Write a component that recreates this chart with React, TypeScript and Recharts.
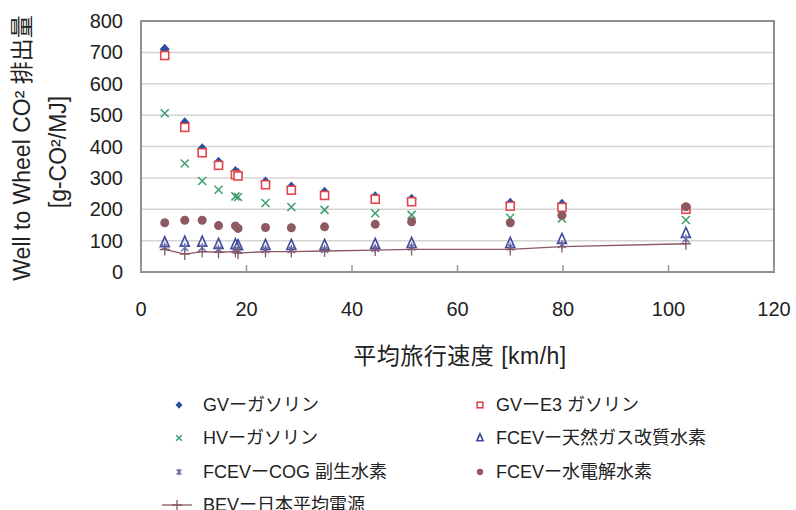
import React from 'react';
import {
    ComposedChart,
    Scatter,
    XAxis,
    YAxis,
    CartesianGrid,
    ReferenceArea,
} from 'recharts';

// average travel speed [km/h] for each measurement point
const speeds = [4.5, 8.3, 11.6, 14.7, 17.9, 18.4, 23.6, 28.5, 34.8, 44.4, 51.3, 70.0, 79.8, 103.3];

// Well to Wheel CO2 [g-CO2/MJ]
const gvGasoline = [710, 476, 393, 350, 320, 314, 287, 271, 254, 240, 232, 219, 216, 205];
const gvE3 = [690, 461, 380, 340, 310, 306, 278, 261, 244, 232, 224, 210, 206, 200];
const hvGasoline = [506, 346, 290, 262, 241, 239, 220, 207, 198, 187, 182, 173, 171, 166];
const fcevNaturalGas = [93, 95, 95, 88, 87, 84, 85, 85, 85, 88, 91, 91, 104, 123];
const fcevCog = [80, 78, 78, 73, 72, 70, 72, 72, 72, 75, 80, 80, 88, 105];
const fcevElectrolysis = [157, 165, 165, 148, 147, 139, 142, 141, 144, 152, 160, 157, 181, 208];
const bevJapan = [72, 57, 65, 63, 65, 60, 65, 65, 67, 70, 72, 72, 81, 90];

const xTicks = [0, 20, 40, 60, 80, 100, 120];
const yTicks = [0, 100, 200, 300, 400, 500, 600, 700, 800];

const FONT = '"Liberation Sans", Arial, "Noto Sans CJK JP", sans-serif';
const X_TICK_GAP = 30;

type MarkerKind = 'diamond' | 'square' | 'x' | 'triangle' | 'asterisk' | 'circle' | 'plus';

function Marker({ kind, cx, cy, color, s = 1 }: { kind: MarkerKind; cx: number; cy: number; color: string; s?: number }) {
    switch (kind) {
        case 'diamond':
            return <path d={`M${cx},${cy - 5.5 * s}L${cx + 5 * s},${cy}L${cx},${cy + 5.5 * s}L${cx - 5 * s},${cy}Z`} fill={color} />;
        case 'square':
            return <rect x={cx - 4 * s} y={cy - 4 * s} width={8 * s} height={8 * s} fill="#fff" stroke={color} strokeWidth={1.6} />;
        case 'x':
            return (
                <path
                    d={`M${cx - 4 * s},${cy - 4 * s}L${cx + 4 * s},${cy + 4 * s}M${cx + 4 * s},${cy - 4 * s}L${cx - 4 * s},${cy + 4 * s}`}
                    stroke={color}
                    strokeWidth={1.5}
                />
            );
        case 'triangle':
            return (
                <path
                    d={`M${cx},${cy - 6 * s}L${cx + 4.5 * s},${cy + 4 * s}L${cx - 4.5 * s},${cy + 4 * s}Z`}
                    fill="#fff"
                    fillOpacity={0}
                    stroke={color}
                    strokeWidth={1.6}
                />
            );
        case 'asterisk':
            return (
                <path
                    d={`M${cx - 3.5 * s},${cy - 3.5 * s}L${cx + 3.5 * s},${cy + 3.5 * s}M${cx + 3.5 * s},${cy - 3.5 * s}L${cx - 3.5 * s},${cy + 3.5 * s}M${cx},${cy - 4.5 * s}L${cx},${cy + 4.5 * s}`}
                    stroke={color}
                    strokeWidth={1.4}
                />
            );
        case 'circle':
            return <circle cx={cx} cy={cy} r={4.5 * s} fill={color} />;
        case 'plus':
        default:
            return (
                <path
                    d={`M${cx - 5 * s},${cy}L${cx + 5 * s},${cy}M${cx},${cy - 5 * s}L${cx},${cy + 6 * s}`}
                    stroke={color}
                    strokeWidth={1.3}
                />
            );
    }
}

const series: { name: string; values: number[]; color: string; kind: MarkerKind; line?: boolean }[] = [
    { name: 'GVーガソリン', values: gvGasoline, color: '#2a4f9f', kind: 'diamond' },
    { name: 'GVーE3 ガソリン', values: gvE3, color: '#e0474d', kind: 'square' },
    { name: 'HVーガソリン', values: hvGasoline, color: '#3e9e6e', kind: 'x' },
    { name: 'FCEVー天然ガス改質水素', values: fcevNaturalGas, color: '#3d4b9c', kind: 'triangle' },
    { name: 'FCEVーCOG 副生水素', values: fcevCog, color: '#6a6cb3', kind: 'asterisk' },
    { name: 'FCEVー水電解水素', values: fcevElectrolysis, color: '#8e5a61', kind: 'circle' },
    { name: 'BEVー日本平均電源', values: bevJapan, color: '#8a5864', kind: 'plus', line: true },
];

function XTick(props: any) {
    const { x, y, payload } = props;
    const axisY = y - X_TICK_GAP;
    return (
        <g>
            <line x1={x} y1={axisY - 7} x2={x} y2={axisY} stroke="#9a9a9a" strokeWidth={1.5} />
            <text x={x} y={y} dy="0.71em" textAnchor="middle" fontSize={20} fill="#222" fontFamily={FONT}>
                {payload.value}
            </text>
        </g>
    );
}

function LegendBlock() {
    const cols = [179, 480];
    const textX = [203, 496];
    const rows = [405, 438, 472, 505];
    return (
        <svg width={796} height={510} style={{ position: 'absolute', left: 0, top: 0, pointerEvents: 'none' }}>
            {series.map((s, i) => {
                const col = i % 2;
                const row = Math.floor(i / 2);
                const cy = rows[row];
                const cx = s.line ? 177 : cols[col];
                return (
                    <g key={s.name}>
                        {s.line && <line x1={162} y1={cy} x2={192} y2={cy} stroke={s.color} strokeWidth={1.3} />}
                        <Marker kind={s.kind} cx={cx} cy={cy} color={s.color} s={s.line ? 1 : 0.7} />
                        <text x={textX[col]} y={cy} dy="0.35em" fontSize={18} fill="#222" fontFamily={FONT}>
                            {s.name}
                        </text>
                    </g>
                );
            })}
        </svg>
    );
}

export default function App() {
    return (
        <div style={{ position: 'absolute', left: 0, top: 0, width: 796, height: 510, background: '#fff', fontFamily: FONT, overflow: 'hidden' }}>
            <ComposedChart width={796} height={510} margin={{ top: 21, right: 22, left: 0, bottom: 198 }}>
                <CartesianGrid vertical={false} stroke="#d4d4d4" strokeWidth={1.5} />
                <XAxis
                    type="number"
                    dataKey="x"
                    domain={[0, 120]}
                    ticks={xTicks}
                    height={40}
                    tickSize={0}
                    tickMargin={X_TICK_GAP}
                    tickLine={false}
                    tick={<XTick />}
                    axisLine={{ stroke: '#8f8f8f', strokeWidth: 2 }}
                    allowDataOverflow
                />
                <YAxis
                    type="number"
                    dataKey="y"
                    domain={[0, 800]}
                    ticks={yTicks}
                    width={141}
                    tickSize={0}
                    tickMargin={18}
                    tickLine={false}
                    tick={{ fontSize: 20, fill: '#222', fontFamily: FONT }}
                    axisLine={{ stroke: '#8f8f8f', strokeWidth: 2 }}
                />
                <ReferenceArea x1={0} x2={120} y1={0} y2={800} fill="none" stroke="#8f8f8f" strokeWidth={2} ifOverflow="visible" />
                {series.map((s) => (
                    <Scatter
                        key={s.name}
                        name={s.name}
                        data={speeds.map((x, i) => ({ x, y: s.values[i] }))}
                        isAnimationActive={false}
                        line={s.line ? { stroke: s.color, strokeWidth: 1.3 } : false}
                        lineType="joint"
                        shape={(p: any) => <Marker kind={s.kind} cx={p.cx} cy={p.cy} color={s.color} />}
                    />
                ))}
            </ComposedChart>
            <div
                style={{
                    position: 'absolute',
                    left: 20,
                    top: 148,
                    transform: 'translate(-50%, -50%) rotate(-90deg)',
                    whiteSpace: 'nowrap',
                    fontSize: 23,
                    color: '#222',
                }}
            >
                Well to Wheel CO² 排出量
            </div>
            <div
                style={{
                    position: 'absolute',
                    left: 58,
                    top: 152,
                    transform: 'translate(-50%, -50%) rotate(-90deg)',
                    whiteSpace: 'nowrap',
                    fontSize: 23,
                    color: '#222',
                }}
            >
                [g-CO²/MJ]
            </div>
            <div
                style={{
                    position: 'absolute',
                    left: 460,
                    top: 354,
                    transform: 'translate(-50%, -50%)',
                    whiteSpace: 'nowrap',
                    fontSize: 23,
                    letterSpacing: 0.5,
                    color: '#222',
                }}
            >
                平均旅行速度 [km/h]
            </div>
            <LegendBlock />
        </div>
    );
}
